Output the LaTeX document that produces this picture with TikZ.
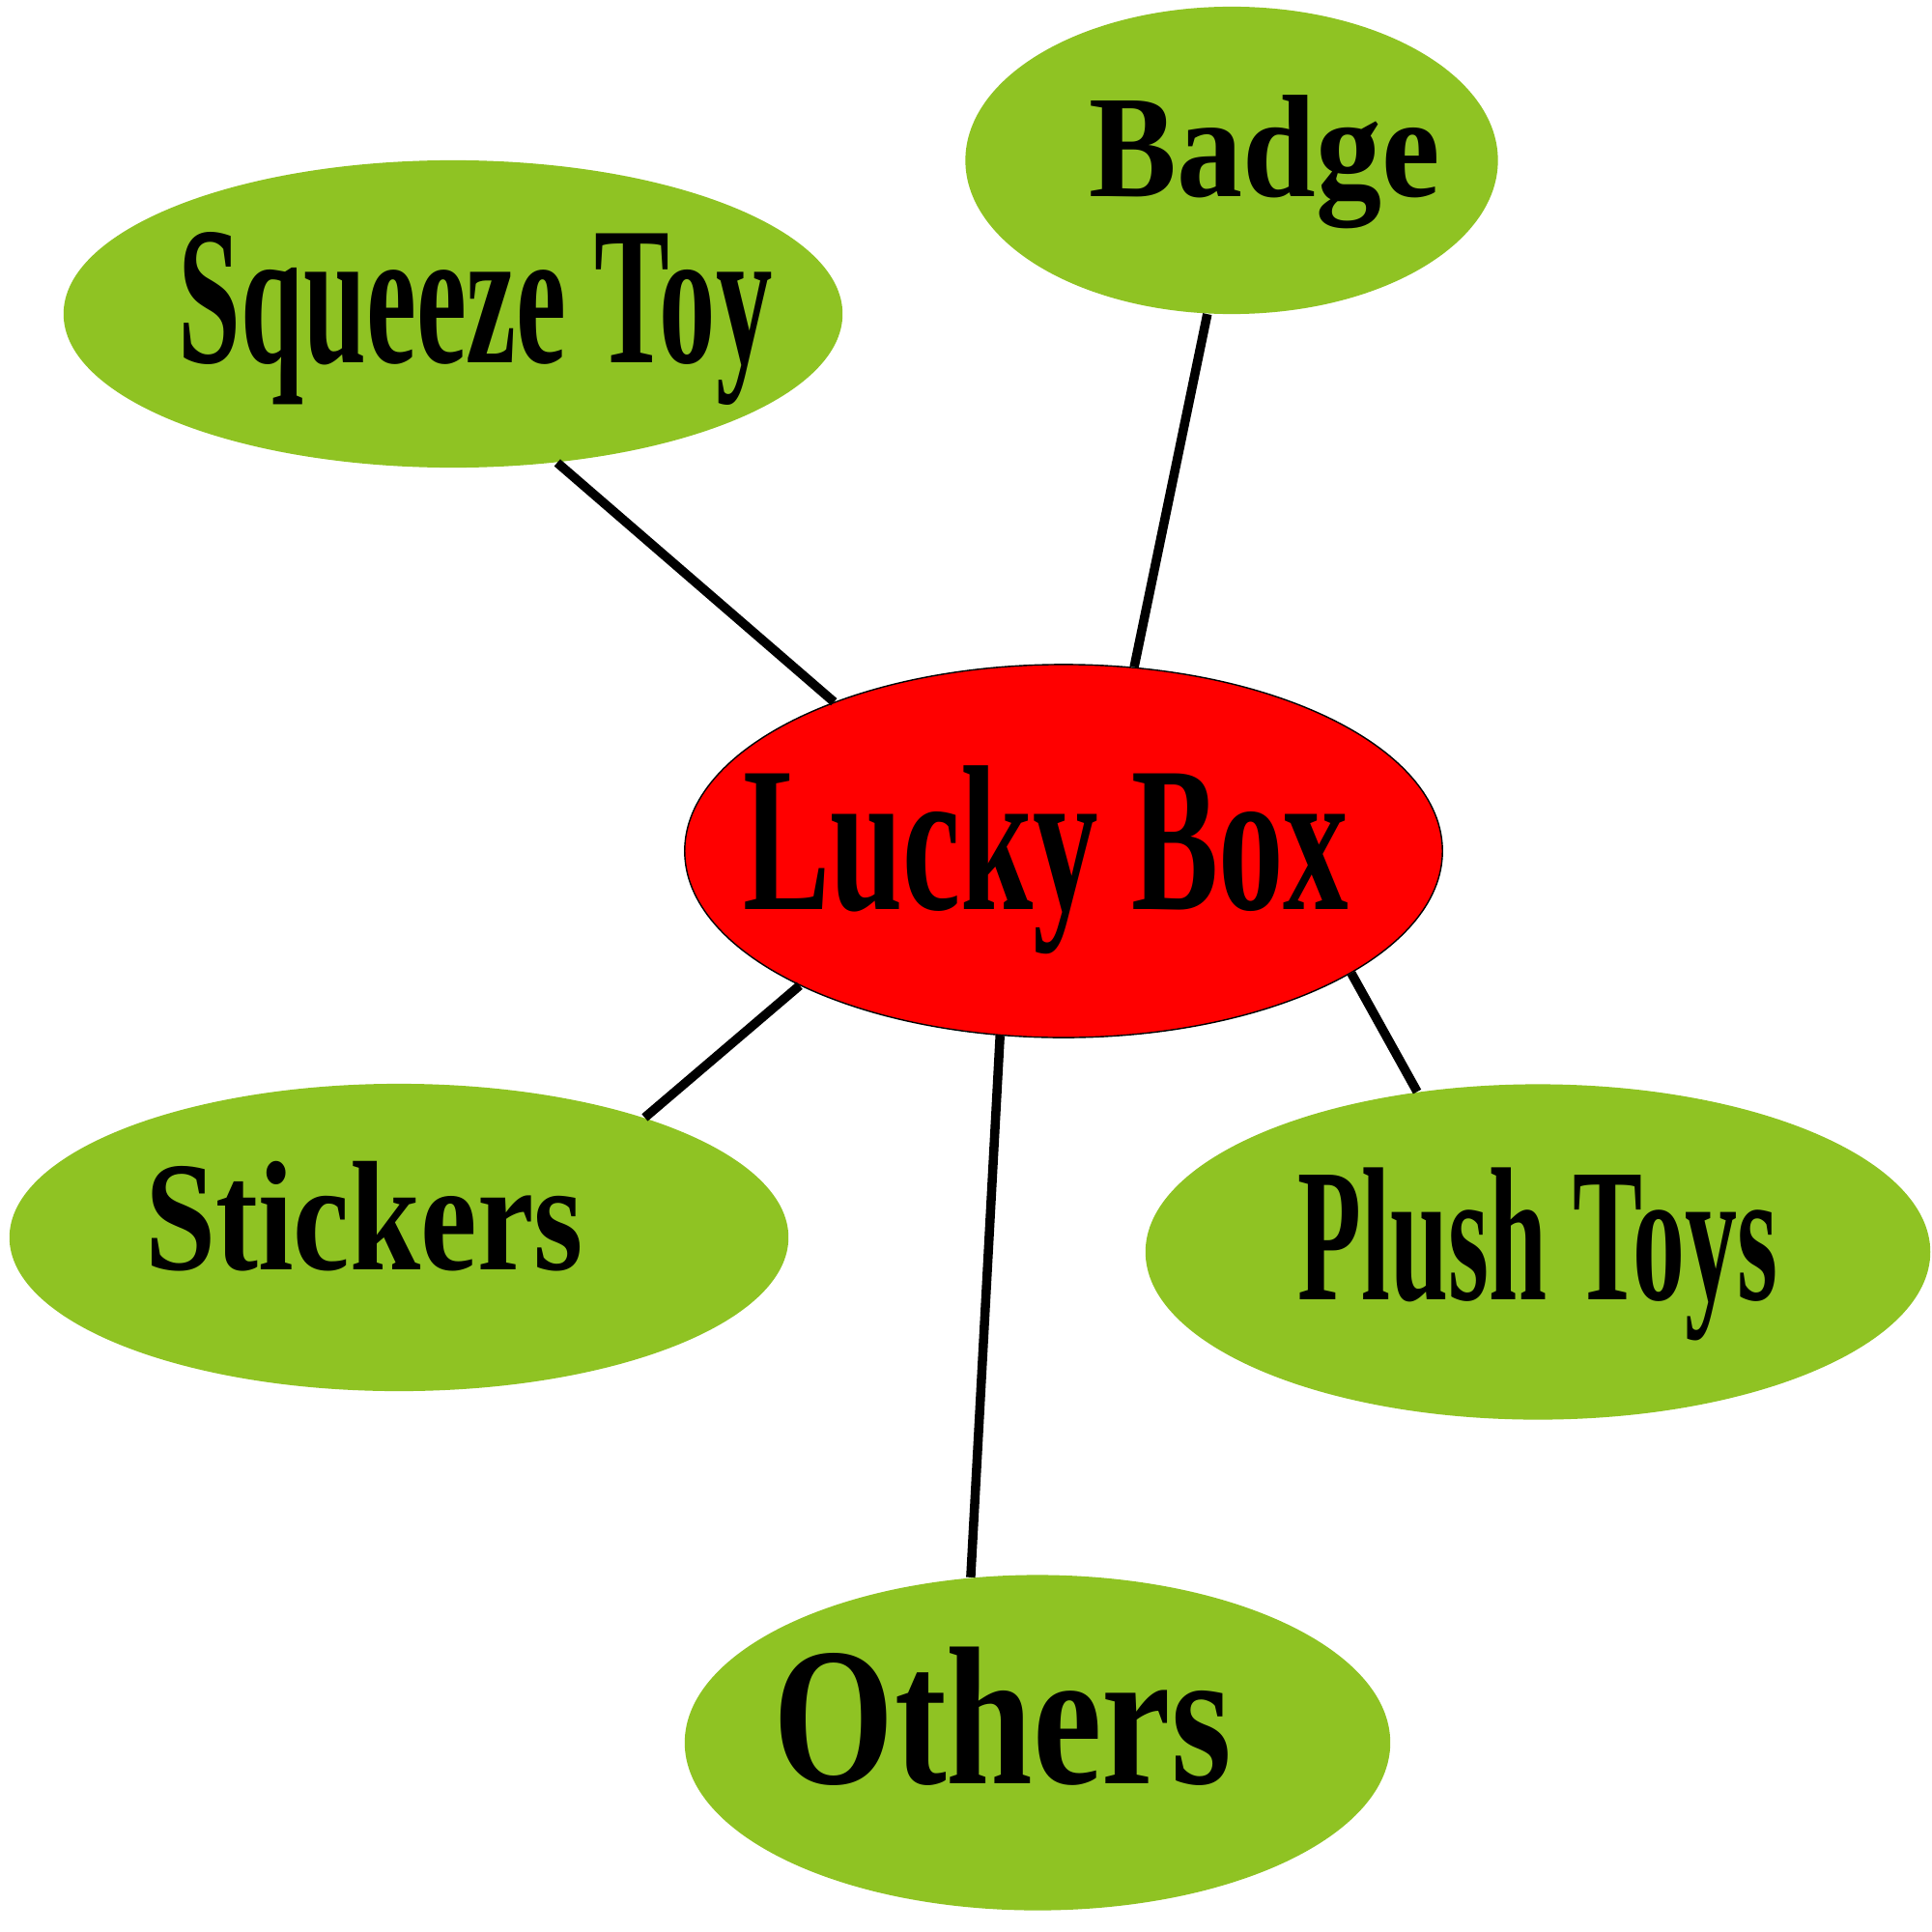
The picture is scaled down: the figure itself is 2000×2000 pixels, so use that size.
\documentclass[tikz,border=0pt]{standalone}
\usepackage{fontspec}
\setmainfont{Liberation Serif}
\usepackage{graphicx}
\usetikzlibrary{shapes.geometric}
\definecolor{toygreen}{RGB}{143,195,35}
\definecolor{boxred}{RGB}{255,0,0}
% squeezed bold label with no size of its own
\newcommand{\toylabel}[4]{\hspace*{#4}\makebox[0pt]{\raisebox{#3}[0pt][0pt]{\scalebox{#1}[1]{\bfseries #2}}}\hspace*{-#4}}
\tikzset{toy/.style={ellipse, draw=none, fill=toygreen, inner sep=0pt}, luckybox/.style={ellipse, draw=black, line width=0.4pt, fill=boxred, inner sep=0pt}, link/.style={line width=2.7pt, draw=black}}
\begin{document}
\begin{tikzpicture}[x=0.01cm, y=-0.01cm]
\useasboundingbox (0,0) rectangle (2000,2000);
\node[luckybox, minimum width=7.84cm, minimum height=3.86cm, font=\fontsize{61}{61}\selectfont] (lucky) at (1101,881) {\toylabel{0.63}{Lucky Box}{-0.28em}{-0.18cm}};
\node[toy, minimum width=5.51cm, minimum height=3.18cm, font=\fontsize{43}{43}\selectfont] (badge) at (1275,166) {\toylabel{0.90}{Badge}{-0.25em}{0.34cm}};
\node[toy, minimum width=8.06cm, minimum height=3.18cm, font=\fontsize{58}{58}\selectfont] (squeeze) at (469,325) {\toylabel{0.572}{Squeeze Toy}{-0.25em}{0.23cm}};
\node[toy, minimum width=8.06cm, minimum height=3.18cm, font=\fontsize{46}{46}\selectfont] (stickers) at (413,1281) {\toylabel{0.814}{Stickers}{-0.21em}{-0.36cm}};
\node[toy, minimum width=8.12cm, minimum height=3.47cm, font=\fontsize{56}{56}\selectfont] (plush) at (1592,1296) {\toylabel{0.548}{Plush Toys}{-0.25em}{0cm}};
\node[toy, minimum width=7.30cm, minimum height=3.47cm, font=\fontsize{58}{58}\selectfont] (others) at (1074,1804) {\toylabel{0.79}{Others}{-0.21em}{-0.36cm}};
\draw[link] (badge.261.9) -- (lucky.69.4);
\draw[link] (squeeze.-55.7) -- (lucky.147.5);
\draw[link] (stickers.26.4) -- (lucky.207);
\draw[link] (others.112) -- (lucky.251.2);
\draw[link] (plush.127.9) -- (lucky.-23);
\end{tikzpicture}
\end{document}
